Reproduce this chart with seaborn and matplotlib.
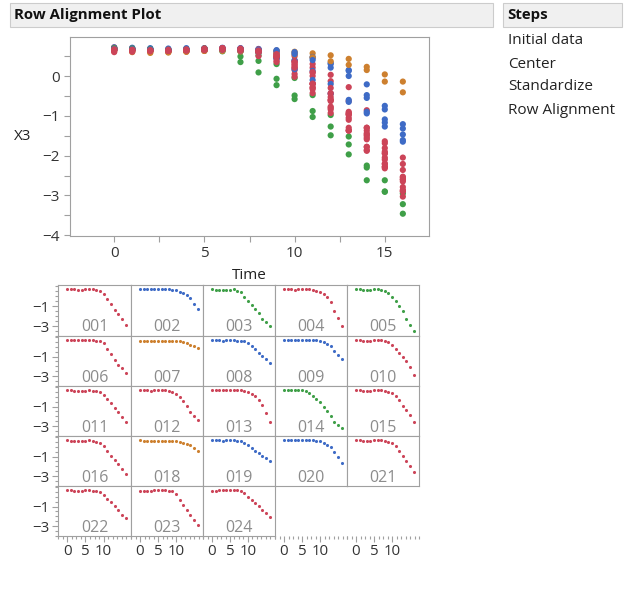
import numpy as np
import pandas as pd
import matplotlib
matplotlib.use('Agg')
import matplotlib.pyplot as plt
from matplotlib.patches import Rectangle
from matplotlib.ticker import MultipleLocator, FixedLocator
import seaborn as sns

# 1. Data (X3 after row alignment, Time 0..16)
time = list(range(17))

x001 = [0.68, 0.67, 0.66, 0.64, 0.65, 0.67, 0.68, 0.66, 0.60, 0.47, 0.24, -0.33, -0.84, -1.37, -1.78, -2.28, -2.86]
x002 = [0.70, 0.69, 0.68, 0.67, 0.68, 0.69, 0.70, 0.69, 0.67, 0.63, 0.58, 0.45, 0.30, 0.15, -0.21, -0.75, -1.32]
x003 = [0.66, 0.65, 0.64, 0.62, 0.63, 0.65, 0.66, 0.49, 0.38, -0.07, -0.49, -0.88, -1.27, -1.72, -2.30, -2.62, -2.95]
x004 = [0.70, 0.68, 0.66, 0.65, 0.66, 0.68, 0.69, 0.68, 0.60, 0.50, 0.38, 0.21, -0.13, -0.63, -1.47, -2.20, -3.03]
x005 = [0.67, 0.66, 0.65, 0.63, 0.64, 0.66, 0.67, 0.62, 0.52, 0.30, -0.05, -0.48, -0.98, -1.52, -2.25, -2.90, -3.46]
x006 = [0.72, 0.70, 0.68, 0.66, 0.67, 0.69, 0.70, 0.68, 0.64, 0.55, 0.38, -0.19, -0.77, -1.30, -1.86, -2.21, -2.65]
x007 = [0.62, 0.60, 0.58, 0.59, 0.61, 0.63, 0.64, 0.64, 0.63, 0.64, 0.61, 0.57, 0.52, 0.43, 0.23, 0.04, -0.14]
x008 = [0.66, 0.65, 0.65, 0.64, 0.65, 0.66, 0.67, 0.64, 0.62, 0.55, 0.40, 0.13, -0.20, -0.60, -0.94, -1.27, -1.65]
x009 = [0.72, 0.71, 0.70, 0.69, 0.70, 0.70, 0.71, 0.70, 0.68, 0.65, 0.60, 0.48, 0.33, 0.13, -0.48, -0.84, -1.21]
x010 = [0.68, 0.66, 0.64, 0.63, 0.64, 0.66, 0.67, 0.66, 0.62, 0.45, 0.15, -0.20, -0.60, -1.05, -1.50, -2.10, -2.90]
x011 = [0.66, 0.65, 0.63, 0.61, 0.62, 0.64, 0.66, 0.64, 0.60, 0.45, 0.20, -0.20, -0.60, -1.10, -1.59, -2.05, -2.60]
x012 = [0.68, 0.67, 0.66, 0.64, 0.65, 0.67, 0.68, 0.66, 0.62, 0.50, 0.30, 0.00, -0.45, -0.95, -1.55, -1.95, -2.36]
x013 = [0.70, 0.68, 0.67, 0.66, 0.67, 0.69, 0.70, 0.69, 0.67, 0.60, 0.50, 0.30, 0.03, -0.28, -0.86, -1.69, -2.53]
x014 = [0.70, 0.69, 0.68, 0.66, 0.67, 0.69, 0.62, 0.35, 0.09, -0.23, -0.58, -1.03, -1.49, -1.97, -2.62, -2.91, -3.22]
x015 = [0.66, 0.65, 0.64, 0.62, 0.63, 0.65, 0.66, 0.65, 0.60, 0.48, 0.35, 0.10, -0.30, -0.90, -1.30, -1.90, -2.60]
x016 = [0.65, 0.64, 0.63, 0.62, 0.63, 0.64, 0.65, 0.62, 0.50, 0.35, 0.05, -0.43, -0.93, -1.37, -1.78, -2.28, -2.79]
x018 = [0.65, 0.62, 0.60, 0.60, 0.61, 0.63, 0.63, 0.62, 0.60, 0.58, 0.54, 0.47, 0.37, 0.28, 0.15, -0.14, -0.41]
x019 = [0.66, 0.66, 0.65, 0.64, 0.65, 0.66, 0.66, 0.64, 0.60, 0.43, 0.17, -0.10, -0.44, -0.65, -0.90, -1.17, -1.47]
x020 = [0.68, 0.67, 0.67, 0.66, 0.67, 0.68, 0.69, 0.68, 0.66, 0.62, 0.55, 0.40, 0.21, 0.00, -0.55, -1.09, -1.61]
x021 = [0.66, 0.65, 0.64, 0.63, 0.64, 0.66, 0.67, 0.65, 0.62, 0.52, 0.35, 0.08, -0.43, -0.93, -1.44, -1.94, -2.55]
x022 = [0.67, 0.66, 0.64, 0.63, 0.64, 0.65, 0.66, 0.64, 0.60, 0.48, 0.21, -0.19, -0.53, -0.97, -1.37, -1.81, -2.21]
x023 = [0.60, 0.61, 0.62, 0.63, 0.65, 0.68, 0.70, 0.68, 0.64, 0.55, 0.28, -0.29, -0.80, -1.37, -1.88, -2.32, -2.89]
x024 = [0.64, 0.64, 0.65, 0.66, 0.67, 0.69, 0.70, 0.68, 0.62, 0.38, -0.02, -0.29, -0.63, -0.97, -1.30, -1.64, -2.05]

row_ids = ['001', '002', '003', '004', '005', '006', '007', '008', '009', '010',
           '011', '012', '013', '014', '015', '016', '018', '019', '020', '021',
           '022', '023', '024']
row_values = [x001, x002, x003, x004, x005, x006, x007, x008, x009, x010,
              x011, x012, x013, x014, x015, x016, x018, x019, x020, x021,
              x022, x023, x024]
row_groups = ['red', 'blue', 'green', 'red', 'green', 'red', 'orange', 'blue', 'blue', 'red',
              'red', 'red', 'red', 'green', 'red', 'red', 'orange', 'blue', 'blue', 'red',
              'red', 'red', 'red']

steps = ['Initial data', 'Center', 'Standardize', 'Row Alignment']

palette = {'red': '#CC4458', 'blue': '#3E6BC6', 'green': '#3F9F48', 'orange': '#CD802F'}

rows = []
for rid, vals, grp in zip(row_ids, row_values, row_groups):
    for t, v in zip(time, vals):
        rows.append({'Row': rid, 'Time': t, 'X3': v, 'Group': grp})
df = pd.DataFrame(rows)

# 2. Figure layout in pixels
W, H = 625, 597


def box(x0, y0, x1, y1):
    return [x0 / W, 1 - y1 / H, (x1 - x0) / W, (y1 - y0) / H]


sns.set_style('white')
plt.rcParams['font.family'] = ['Open Sans', 'DejaVu Sans']
plt.rcParams['axes.edgecolor'] = '#a0a0a0'
plt.rcParams['xtick.color'] = '#a0a0a0'
plt.rcParams['ytick.color'] = '#a0a0a0'
plt.rcParams['xtick.labelcolor'] = '#333333'
plt.rcParams['ytick.labelcolor'] = '#333333'

fig = plt.figure(figsize=(W / 100, H / 100), dpi=100)

# header bars
fig.add_artist(Rectangle((10 / W, 1 - 27 / H), 483 / W, 24 / H, transform=fig.transFigure,
                         facecolor='#f0f0f0', edgecolor='#cccccc', lw=0.8))
fig.text(14 / W, 1 - 15 / H, 'Row Alignment Plot', weight='bold', fontsize=10.8, va='center',
         color='#111111')
fig.add_artist(Rectangle((503 / W, 1 - 27 / H), 119 / W, 24 / H, transform=fig.transFigure,
                         facecolor='#f0f0f0', edgecolor='#cccccc', lw=0.8))
fig.text(507 / W, 1 - 15 / H, 'Steps', weight='bold', fontsize=10.8, va='center', color='#111111')
for i, s in enumerate(steps):
    fig.text(508 / W, 1 - (41 + 23 * i) / H, s, fontsize=11, va='center', color='#222222')

# 3. Main overlay plot
ax = fig.add_axes(box(70, 37, 429, 236))
sns.scatterplot(data=df, x='Time', y='X3', hue='Group', palette=palette, s=20,
                linewidth=0, legend=False, ax=ax)
ax.set_xlim(-2.45, 17.45)
ax.set_ylim(-4.02, 0.98)
ax.xaxis.set_major_locator(FixedLocator([0, 5, 10, 15]))
ax.xaxis.set_minor_locator(MultipleLocator(2.5))
ax.yaxis.set_major_locator(MultipleLocator(1))
ax.yaxis.set_minor_locator(MultipleLocator(0.5))
ax.tick_params(which='both', direction='out', length=4, width=0.8, labelsize=11)
ax.tick_params(axis='both', which='both', bottom=True, left=True)
ax.set_xlabel('Time', fontsize=11, color='#222222', labelpad=5)
ax.set_ylabel('X3', fontsize=11, color='#222222', rotation=0, va='center', labelpad=14)
for sp in ax.spines.values():
    sp.set_color('#a0a0a0')
    sp.set_linewidth(0.8)

# 4. Small multiples, one per row
col_edges = [58, 131, 203, 275, 347, 419]
row_edges = [285, 336, 386, 436, 486, 536]


def style_small(a, col, bottom):
    a.set_xlim(-2.5, 17.5)
    a.set_ylim(-4.0, 1.1)
    a.xaxis.set_major_locator(FixedLocator([0, 5, 10]))
    a.xaxis.set_minor_locator(MultipleLocator(1.25))
    a.yaxis.set_major_locator(FixedLocator([-1, -3]))
    a.yaxis.set_minor_locator(MultipleLocator(0.5))
    a.tick_params(which='major', direction='out', length=4, width=0.8, labelsize=10.8, pad=2)
    a.tick_params(which='minor', direction='out', length=2.5, width=0.8)
    a.tick_params(left=(col == 0), labelleft=(col == 0), bottom=bottom, labelbottom=bottom,
                  which='both')
    a.set_xlabel('')
    a.set_ylabel('')
    for sp in a.spines.values():
        sp.set_color('#a0a0a0')
        sp.set_linewidth(0.8)


for i, (rid, grp) in enumerate(zip(row_ids, row_groups)):
    r, c = divmod(i, 5)
    a = fig.add_axes(box(col_edges[c], row_edges[r], col_edges[c + 1], row_edges[r + 1]))
    sub = df[df['Row'] == rid]
    sns.scatterplot(data=sub, x='Time', y='X3', color=palette[grp], s=5,
                    linewidth=0, legend=False, ax=a)
    a.text(0.5, 0.17, rid, transform=a.transAxes, ha='center', va='center',
           fontsize=11.5, color='#8c8c8c')
    style_small(a, c, r == 4)

# tick-only axes under the empty last-row cells
for c in [3, 4]:
    a = fig.add_axes(box(col_edges[c], row_edges[4], col_edges[c + 1], row_edges[5]))
    a.set_facecolor('none')
    style_small(a, c, True)
    for sp in a.spines.values():
        sp.set_visible(False)

fig.savefig('out.png', dpi=100)
